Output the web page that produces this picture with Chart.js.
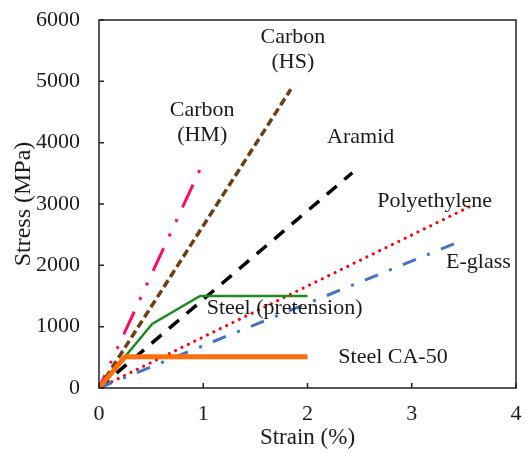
<!DOCTYPE html>
<html>
<head>
<meta charset="utf-8">
<script src="https://cdn.jsdelivr.net/npm/chart.js@4/dist/chart.umd.min.js"></script>
<style>
    html, body { margin: 0; padding: 0; background: #fff; }
    #wrap { width: 526px; height: 452px; }
</style>
</head>
<body>
<div id="wrap"><canvas id="chart"></canvas></div>
<script>
// strain (%) / stress (MPa) pairs
const carbonHM = [[0, 0], [0.99, 3640]];
const carbonHS = [[0, 0], [1.84, 4870]];
const aramid = [[0, 0], [2.43, 3510]];
const polyethylene = [[0, 0], [3.56, 2960]];
const eGlass = [[0, 0], [3.45, 2380]];
const steelPretension = [[0, 0], [0.51, 1045], [0.97, 1500], [2.0, 1500]];
const steelCA50 = [[0, 0], [0.25, 510], [2.0, 510]];

const xTicks = [0, 1, 2, 3, 4];
const yTicks = [0, 1000, 2000, 3000, 4000, 5000, 6000];

// text labels next to the curves, in data coordinates
const labels = [
    {lines: ['Carbon', '(HS)'], x: 1.86, y: 5720},
    {lines: ['Carbon', '(HM)'], x: 0.99, y: 4530},
    {lines: ['Aramid'], x: 2.51, y: 4090},
    {lines: ['Polyethylene'], x: 3.22, y: 3050},
    {lines: ['E-glass'], x: 3.64, y: 2050},
    {lines: ['Steel (pretension)'], x: 1.78, y: 1300},
    {lines: ['Steel CA-50'], x: 2.82, y: 500}
];

const FONT = '"Liberation Serif", "Times New Roman", serif';

const toPoints = (pairs) => pairs.map(p => ({x: p[0], y: p[1]}));

const series = (name, pairs, color, width, dash, cap, dashOffset) => ({
    label: name,
    data: toPoints(pairs),
    showLine: true,
    borderColor: color,
    backgroundColor: color,
    borderWidth: width,
    borderDash: dash,
    borderDashOffset: dashOffset || 0,
    borderCapStyle: cap || 'butt',
    pointRadius: 0,
    fill: false
});

// box, inside tick marks and curve labels
const decorations = {
    id: 'decorations',
    afterDatasetsDraw(chart) {
        const {ctx, chartArea: a, scales: {x, y}} = chart;
        ctx.save();
        ctx.strokeStyle = '#222';
        ctx.lineWidth = 1.5;
        ctx.strokeRect(a.left, a.top, a.right - a.left, a.bottom - a.top);
        ctx.beginPath();
        xTicks.forEach(v => {
            const px = x.getPixelForValue(v);
            ctx.moveTo(px, a.bottom);
            ctx.lineTo(px, a.bottom - 5);
        });
        yTicks.forEach(v => {
            const py = y.getPixelForValue(v);
            ctx.moveTo(a.left, py);
            ctx.lineTo(a.left + 5, py);
        });
        ctx.stroke();

        ctx.fillStyle = '#1a1a1a';
        ctx.font = '22px ' + FONT;
        ctx.textAlign = 'center';
        ctx.textBaseline = 'middle';
        labels.forEach(l => {
            const px = x.getPixelForValue(l.x);
            const py = y.getPixelForValue(l.y);
            l.lines.forEach((t, i) => ctx.fillText(t, px, py + i * 25));
        });
        ctx.restore();
    }
};

new Chart(document.getElementById('chart'), {
    type: 'scatter',
    data: {
        datasets: [
            series('Steel CA-50', steelCA50, '#ff6d0d', 5),
            series('Steel (pretension)', steelPretension, '#1f8a1f', 2.5),
            series('E-glass', eGlass, '#4472c4', 3, [14, 12, 3, 12]),
            series('Polyethylene', polyethylene, '#ff0000', 3, [0.1, 7], 'round'),
            series('Aramid', aramid, '#000000', 3.5, [13, 10]),
            series('Carbon (HS)', carbonHS, '#6b3f14', 3.5, [8, 4]),
            series('Carbon (HM)', carbonHM, '#ff0a64', 3, [25, 13, 3, 13, 3, 13], 'butt', 11)
        ]
    },
    options: {
        responsive: true,
        maintainAspectRatio: false,
        animation: false,
        layout: {padding: {top: 20, right: 10, left: 0, bottom: 0}},
        plugins: {
            legend: {display: false},
            tooltip: {enabled: false}
        },
        scales: {
            x: {
                type: 'linear',
                min: 0,
                max: 4,
                afterFit: (s) => {
                    s.height = 64;
                    s.paddingLeft = 0;
                    s.paddingRight = 0;
                },
                afterBuildTicks: (s) => { s.ticks = xTicks.map(v => ({value: v})); },
                grid: {display: false, drawTicks: false},
                border: {display: false},
                ticks: {color: '#1a1a1a', padding: 13, font: {family: FONT, size: 22}, callback: (v) => String(v)},
                title: {display: true, text: 'Strain (%)', color: '#1a1a1a', padding: {top: -3, bottom: 0}, font: {family: FONT, size: 23}}
            },
            y: {
                type: 'linear',
                min: 0,
                max: 6000,
                afterFit: (s) => {
                    s.width = 99;
                    s.paddingTop = 0;
                    s.paddingBottom = 0;
                },
                afterBuildTicks: (s) => { s.ticks = yTicks.map(v => ({value: v})); },
                grid: {display: false, drawTicks: false},
                border: {display: false},
                ticks: {color: '#1a1a1a', padding: 19, font: {family: FONT, size: 22}, callback: (v) => String(v)},
                title: {display: true, text: 'Stress (MPa)', color: '#1a1a1a', padding: {top: 9, bottom: 0}, font: {family: FONT, size: 24}}
            }
        }
    },
    plugins: [decorations]
});
</script>
</body>
</html>
